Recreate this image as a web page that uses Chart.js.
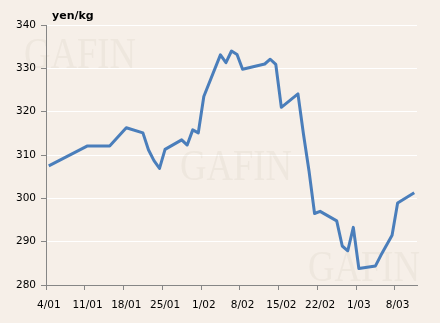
<!DOCTYPE html>
<html>
<head>
<meta charset="utf-8">
<script src="https://cdn.jsdelivr.net/npm/chart.js@4.4.1/dist/chart.umd.min.js"></script>
<style>
  html, body { margin: 0; padding: 0; background: #f6efe8; }
  #wrap { width: 440px; height: 323px; }
</style>
</head>
<body>
<div id="wrap"><canvas id="priceChart"></canvas></div>
<script>
// Price data (yen/kg)
const dates = ['4/01', '11/01', '15/01', '18/01', '21/01', '22/01', '23/01', '24/01', '25/01',
  '28/01', '29/01', '30/01', '31/01', '1/02', '4/02', '5/02', '6/02', '7/02', '8/02',
  '12/02', '13/02', '14/02', '15/02', '18/02', '19/02', '20/02', '21/02', '22/02',
  '25/02', '26/02', '27/02', '28/02', '1/03', '4/03', '5/03', '7/03', '8/03', '11/03'];
const prices = [307.5, 312.1, 312.1, 316.3, 315.1, 311.2, 308.7, 306.9, 311.3,
  313.5, 312.3, 315.8, 315.1, 323.5, 333.1, 331.3, 334.0, 333.2, 329.8,
  331.0, 332.1, 330.9, 321.0, 324.1, 314.8, 306.3, 296.5, 297.0,
  294.8, 289.0, 287.9, 293.3, 283.8, 284.4, 286.9, 291.5, 298.9, 301.3];
const tickLabels = ['4/01', '11/01', '18/01', '25/01', '1/02', '8/02', '15/02', '22/02', '1/03', '8/03'];
const unitLabel = 'yen/kg';

// days since 4 Jan
function dayOf(s) {
  const [d, m] = s.split('/').map(Number);
  return (Date.UTC(2010, m - 1, d) - Date.UTC(2010, 0, 4)) / 864e5;
}

const points = dates.map((d, i) => ({ x: dayOf(d), y: prices[i] }));
const font = { family: 'DejaVu Sans', size: 10.5 };

// faint watermark + unit label
const decor = {
  id: 'decor',
  beforeDatasetsDraw(chart) {
    const c = chart.ctx;
    c.save();
    c.fillStyle = 'rgba(150,135,110,0.08)';
    c.font = '44px "Liberation Serif"';
    c.textBaseline = 'alphabetic';
    [[24, 68], [180, 180], [308, 281]].forEach(([x, y]) => {
      c.fillText('GAFIN', x, y, 112);
    });
    c.restore();
  },
  afterDraw(chart) {
    const c = chart.ctx;
    c.save();
    c.fillStyle = '#000';
    c.font = 'bold 11px "DejaVu Sans"';
    c.textBaseline = 'middle';
    c.fillText(unitLabel, chart.chartArea.left + 6, 16);
    c.restore();
  }
};

new Chart(document.getElementById('priceChart'), {
  type: 'line',
  data: {
    datasets: [{
      data: points,
      borderColor: '#4a7ebb',
      borderWidth: 3,
      borderJoinStyle: 'round',
      pointRadius: 0,
      tension: 0,
      fill: false
    }]
  },
  options: {
    responsive: true,
    maintainAspectRatio: false,
    animation: false,
    layout: { padding: { top: 25, right: 23, left: 0, bottom: 0 } },
    plugins: { legend: { display: false }, tooltip: { enabled: false } },
    scales: {
      x: {
        type: 'linear',
        min: -0.5,
        max: 66.5,
        afterFit(scale) { scale.height = 38; },
        afterBuildTicks(scale) {
          scale.ticks = tickLabels.map(l => ({ value: dayOf(l) - 0.5 }));
        },
        ticks: {
          autoSkip: false,
          maxRotation: 0,
          padding: 9,
          labelOffset: 2.8,
          color: '#000',
          font: font,
          callback: (v, i) => tickLabels[i]
        },
        grid: { drawOnChartArea: false, tickLength: 5, tickColor: '#868686' },
        border: { color: '#868686', width: 1 }
      },
      y: {
        min: 280,
        max: 340,
        afterFit(scale) { scale.width = 46; },
        ticks: { stepSize: 10, padding: 5, color: '#000', font: font },
        grid: { color: '#ffffff', lineWidth: 1, tickLength: 5, tickColor: '#868686' },
        border: { color: '#868686', width: 1 }
      }
    }
  },
  plugins: [decor]
});
</script>
</body>
</html>
